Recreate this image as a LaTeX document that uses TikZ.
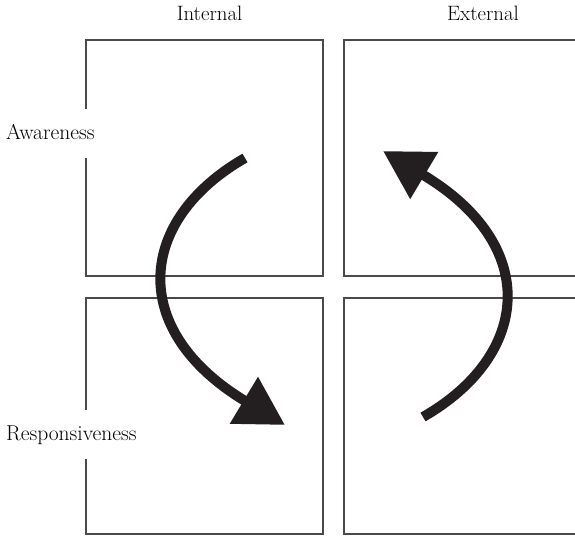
\documentclass[tikz,border=0pt]{standalone}
\usepackage{fontspec}
\setmainfont{Latin Modern Roman}
\usetikzlibrary{arrows.meta}
\definecolor{inkdark}{HTML}{231F20}
\definecolor{framegray}{HTML}{4A4A4A}
\begin{document}
\begin{tikzpicture}[x=1pt,y=-1pt,
    quad/.style={draw=framegray, line width=1.3pt, minimum width=237pt, minimum height=236pt, inner sep=0pt},
    headlabel/.style={anchor=base, font=\fontsize{20.8}{24}\selectfont},
    rowlabel/.style={anchor=base west, fill=white, inner xsep=1pt, inner ysep=0pt,
      text height=30pt, text depth=19pt, font=\fontsize{21.5}{24}\selectfont},
    bigarrow/.style={draw=inkdark, line width=10pt, -{Triangle[length=48pt, width=52pt, fill=inkdark]}}]
  \useasboundingbox (0,0) rectangle (575,536);

  % Cuadrantes
  \node[quad] (intAw)  at (204.5,158) {};
  \node[quad] (extAw)  at (462.5,158) {};
  \node[quad] (intRes) at (204.5,416) {};
  \node[quad] (extRes) at (462.5,416) {};

  % Etiquetas de columnas
  \node[headlabel] (colInt) at (209.5,20) {Internal};
  \node[headlabel] (colExt) at (483,20) {External};

  % Etiquetas de filas
  \node[rowlabel] (rowAw)  at (5,139) {Awareness};
  \node[rowlabel] (rowRes) at (5,440) {Responsiveness};

  % Flechas
  \coordinate (downStart) at (245,158);
  \coordinate (downTip)   at (285,425);
  \coordinate (upStart)   at (423,417);
  \coordinate (upTip)     at (383,151);
  \draw[bigarrow] (downStart) .. controls (137,220) and (127,330) .. (downTip);
  \draw[bigarrow] (upStart) .. controls (531,355) and (541,245) .. (upTip);

\end{tikzpicture}
\end{document}
